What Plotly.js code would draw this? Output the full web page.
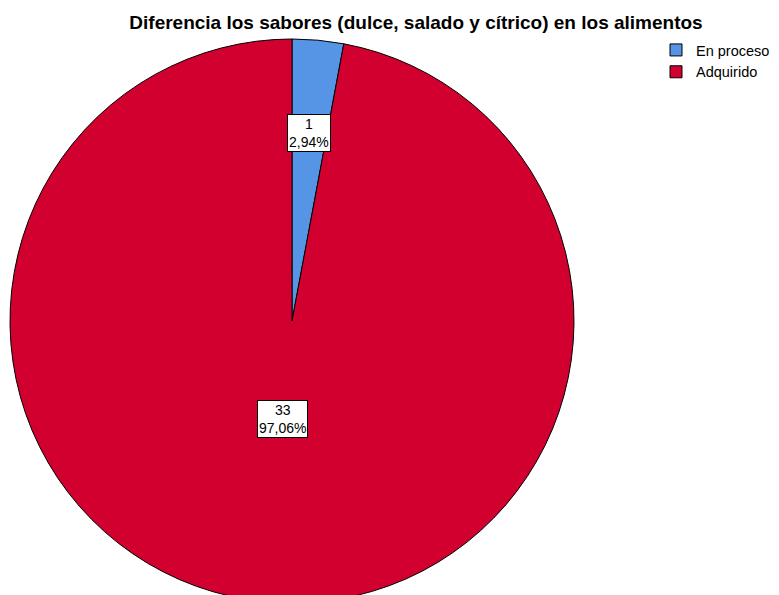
<!DOCTYPE html>
<html>
<head>
<meta charset="utf-8">
<script src="https://cdn.plot.ly/plotly-3.0.1.min.js"></script>
<style>
html,body{margin:0;padding:0;overflow:hidden;background:#fff;}
#chart{width:779px;height:650px;}
</style>
</head>
<body>
<div id="chart"></div>
<script>
var categories = ["En proceso", "Adquirido"];
var counts = [1, 33];
var percentLabels = ["2,94%", "97,06%"];
var sliceColors = ["#5694E6", "#D2002F"];

var W = 779, H = 650;
var cx = 292, cy = 321, R = 282;
var labelRadius = [0.67, 0.35];

var total = counts.reduce(function(a, b){ return a + b; }, 0);
var annotations = [];
var cum = 0;
for (var i = 0; i < counts.length; i++) {
  var frac = counts[i] / total;
  var mid = (cum + frac / 2) * 2 * Math.PI;
  cum += frac;
  var px = cx + labelRadius[i] * R * Math.sin(mid);
  var py = cy - labelRadius[i] * R * Math.cos(mid);
  annotations.push({
    xref: "paper", yref: "paper",
    x: px / W, y: 1 - py / H,
    xanchor: "center", yanchor: "middle",
    text: counts[i] + "<br>" + percentLabels[i],
    showarrow: false,
    bgcolor: "#ffffff", bordercolor: "#000000", borderwidth: 1, borderpad: 1,
    font: {family: "Liberation Sans, Arial, sans-serif", size: 14, color: "#000"}
  });
}

var data = [{
  type: "pie",
  labels: categories,
  values: counts,
  sort: false,
  direction: "clockwise",
  rotation: 0,
  textinfo: "none",
  hoverinfo: "label+value+percent",
  marker: {colors: sliceColors, line: {color: "#000000", width: 1}},
  domain: {x: [(cx - R) / W, (cx + R) / W], y: [1 - (cy + R) / H, 1 - (cy - R) / H]}
}];

var layout = {
  width: W, height: H,
  margin: {l: 0, r: 0, t: 0, b: 0},
  paper_bgcolor: "#ffffff",
  title: {
    text: "<b>Diferencia los sabores (dulce, salado y cítrico) en los alimentos</b>",
    font: {family: "Liberation Sans, Arial, sans-serif", size: 19, color: "#000"},
    x: 416 / W, xanchor: "center", y: 1 - 22 / H, yanchor: "middle"
  },
  showlegend: true,
  legend: {
    x: 656 / W, y: 1 - 34 / H, xanchor: "left", yanchor: "top",
    font: {family: "Liberation Sans, Arial, sans-serif", size: 14.5, color: "#000"},
    tracegroupgap: 0, itemwidth: 30
  },
  annotations: annotations
};

Plotly.newPlot("chart", data, layout, {displayModeBar: false, staticPlot: true});
</script>
</body>
</html>
